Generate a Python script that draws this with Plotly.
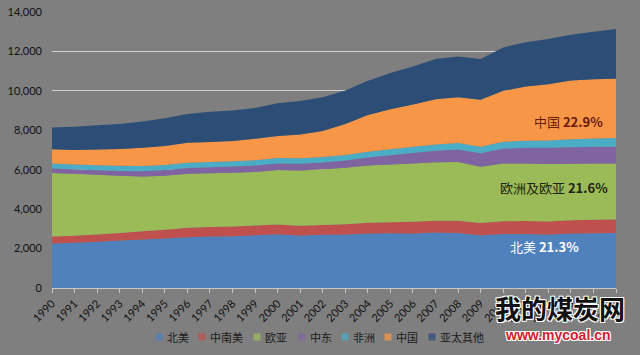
import plotly.graph_objects as go

years = list(range(1990, 2016))

north_america = [2255, 2290, 2340, 2405, 2460, 2510, 2575, 2610, 2625, 2680, 2730, 2660, 2695,
                 2710, 2765, 2780, 2765, 2815, 2795, 2680, 2745, 2745, 2710, 2765, 2780, 2790]
south_central_america = [360, 365, 375, 390, 415, 445, 475, 490, 500, 495, 495, 500, 505,
                         520, 540, 560, 590, 600, 610, 620, 640, 650, 660, 670, 685, 690]
europe_eurasia = [3215, 3140, 3030, 2900, 2785, 2740, 2745, 2715, 2720, 2710, 2760, 2805, 2820,
                  2870, 2915, 2930, 2965, 2960, 2985, 2855, 2935, 2925, 2915, 2870, 2855, 2835]
middle_east = [230, 225, 225, 240, 265, 285, 295, 310, 315, 325, 335, 340, 350,
               365, 395, 460, 530, 590, 640, 675, 750, 790, 825, 840, 840, 850]
africa = [250, 250, 255, 260, 260, 260, 265, 265, 265, 270, 270, 275, 280,
          285, 295, 305, 310, 320, 330, 340, 350, 360, 375, 395, 420, 440]
china = [725, 730, 805, 855, 930, 965, 1015, 1015, 1035, 1095, 1120, 1200, 1315,
         1570, 1870, 2035, 2145, 2290, 2320, 2375, 2580, 2750, 2855, 2985, 3015, 3010]
other_ap = [1100, 1185, 1225, 1270, 1325, 1405, 1460, 1530, 1540, 1560, 1665, 1710, 1715,
            1700, 1730, 1830, 1935, 2035, 2065, 2065, 2205, 2240, 2290, 2325, 2405, 2520]

series_names = ["北美", "中南美", "欧亚", "中东", "非洲", "中国", "亚太其他"]
series_values = [north_america, south_central_america, europe_eurasia, middle_east,
                 africa, china, other_ap]
series_colors = ["#4F81BD", "#C0504D", "#9BBB59", "#8064A2", "#4BACC6", "#F79646", "#2C4D75"]

y_ticks = [0, 2000, 4000, 6000, 8000, 10000, 12000, 14000]
x_ticks = years

share_labels = [
    ("中国 <b>22.9%</b>", "#6B1A10"),
    ("欧洲及欧亚 <b>21.6%</b>", "#1E2410"),
    ("北美 <b>21.3%</b>", "#FFFFFF"),
]

W, H = 640, 355
ML, MR, MT, MB = 52, 24, 12, 67
PW, PH = W - ML - MR, H - MT - MB

def px2paper_x(px):
    return (px - ML) / PW

def px2paper_y(py):
    return (H - MB - py) / PH

fig = go.Figure()
for name, vals, col in zip(series_names, series_values, series_colors):
    fig.add_trace(go.Scatter(
        x=years, y=vals, name=name, mode="none", stackgroup="one",
        fillcolor=col, showlegend=False,
    ))

fig.update_layout(
    width=W, height=H,
    margin=dict(l=ML, r=MR, t=MT, b=MB, pad=0, autoexpand=False),
    paper_bgcolor="#7F7F7F", plot_bgcolor="#7F7F7F",
    font=dict(family="Lato, Noto Sans CJK SC", size=11, color="#111111"),
    xaxis=dict(
        range=[1990, 2015], tickmode="array", tickvals=x_ticks,
        ticktext=[str(y) for y in x_ticks], tickangle=-45, automargin=False,
        showgrid=False, zeroline=False, showline=True, linecolor="#C8C8C8", linewidth=1,
        ticks="outside", ticklen=4, tickcolor="#C8C8C8", tickwidth=1,
        tickfont=dict(family="Lato", size=11, color="#111111"),
    ),
    yaxis=dict(
        range=[0, 14000], tickmode="array", tickvals=y_ticks,
        ticktext=[f"{v:,}" for v in y_ticks], automargin=False,
        showgrid=True, gridcolor="#D0D0D0", gridwidth=1, zeroline=False,
        showline=False, ticks="", ticklabelstandoff=9,
        tickfont=dict(family="Lato", size=11, color="#111111"),
    ),
)

# in-chart share labels
label_pos = [(568, 121), (554, 188), (544, 246)]
for (txt, col), (px, py) in zip(share_labels, label_pos):
    fig.add_annotation(
        x=px2paper_x(px), y=px2paper_y(py), xref="paper", yref="paper",
        text=txt, showarrow=False, xanchor="center", yanchor="middle",
        font=dict(family="Noto Sans CJK SC", size=13, color=col),
    )

# custom legend
marker_px = [159, 202, 257, 302, 345, 388, 432]
legend_y = 337
for name, col, mx in zip(series_names, series_colors, marker_px):
    fig.add_shape(
        type="rect", xref="paper", yref="paper",
        x0=px2paper_x(mx - 3.5), x1=px2paper_x(mx + 3.5),
        y0=px2paper_y(legend_y + 3.5), y1=px2paper_y(legend_y - 3.5),
        fillcolor=col, line=dict(width=0), opacity=0.75,
    )
    fig.add_annotation(
        x=px2paper_x(mx + 6), y=px2paper_y(legend_y), xref="paper", yref="paper",
        text=name, showarrow=False, xanchor="left", yanchor="middle",
        font=dict(family="Noto Sans CJK SC", size=11, color="#1A1A1A"),
    )

# watermark
outline = "1px 1px 0 #fff, -1px -1px 0 #fff, 1px -1px 0 #fff, -1px 1px 0 #fff"
fig.add_annotation(
    x=px2paper_x(560), y=px2paper_y(307), xref="paper", yref="paper",
    text="<b>我的煤炭网</b>", showarrow=False, xanchor="center", yanchor="middle",
    font=dict(family="Noto Sans CJK SC", size=26, color="#111111", shadow=outline),
)
fig.add_annotation(
    x=px2paper_x(558), y=px2paper_y(335), xref="paper", yref="paper",
    text="<b>www.mycoal.cn</b>", showarrow=False, xanchor="center", yanchor="middle",
    font=dict(family="Liberation Sans", size=14, color="#D0202C", shadow=outline),
)

fig.write_html(
    "out.html",
    config={"displayModeBar": False},
    post_script="document.body.style.margin='0';document.body.style.background='#7F7F7F';"
                "document.body.style.overflow='hidden';",
)
